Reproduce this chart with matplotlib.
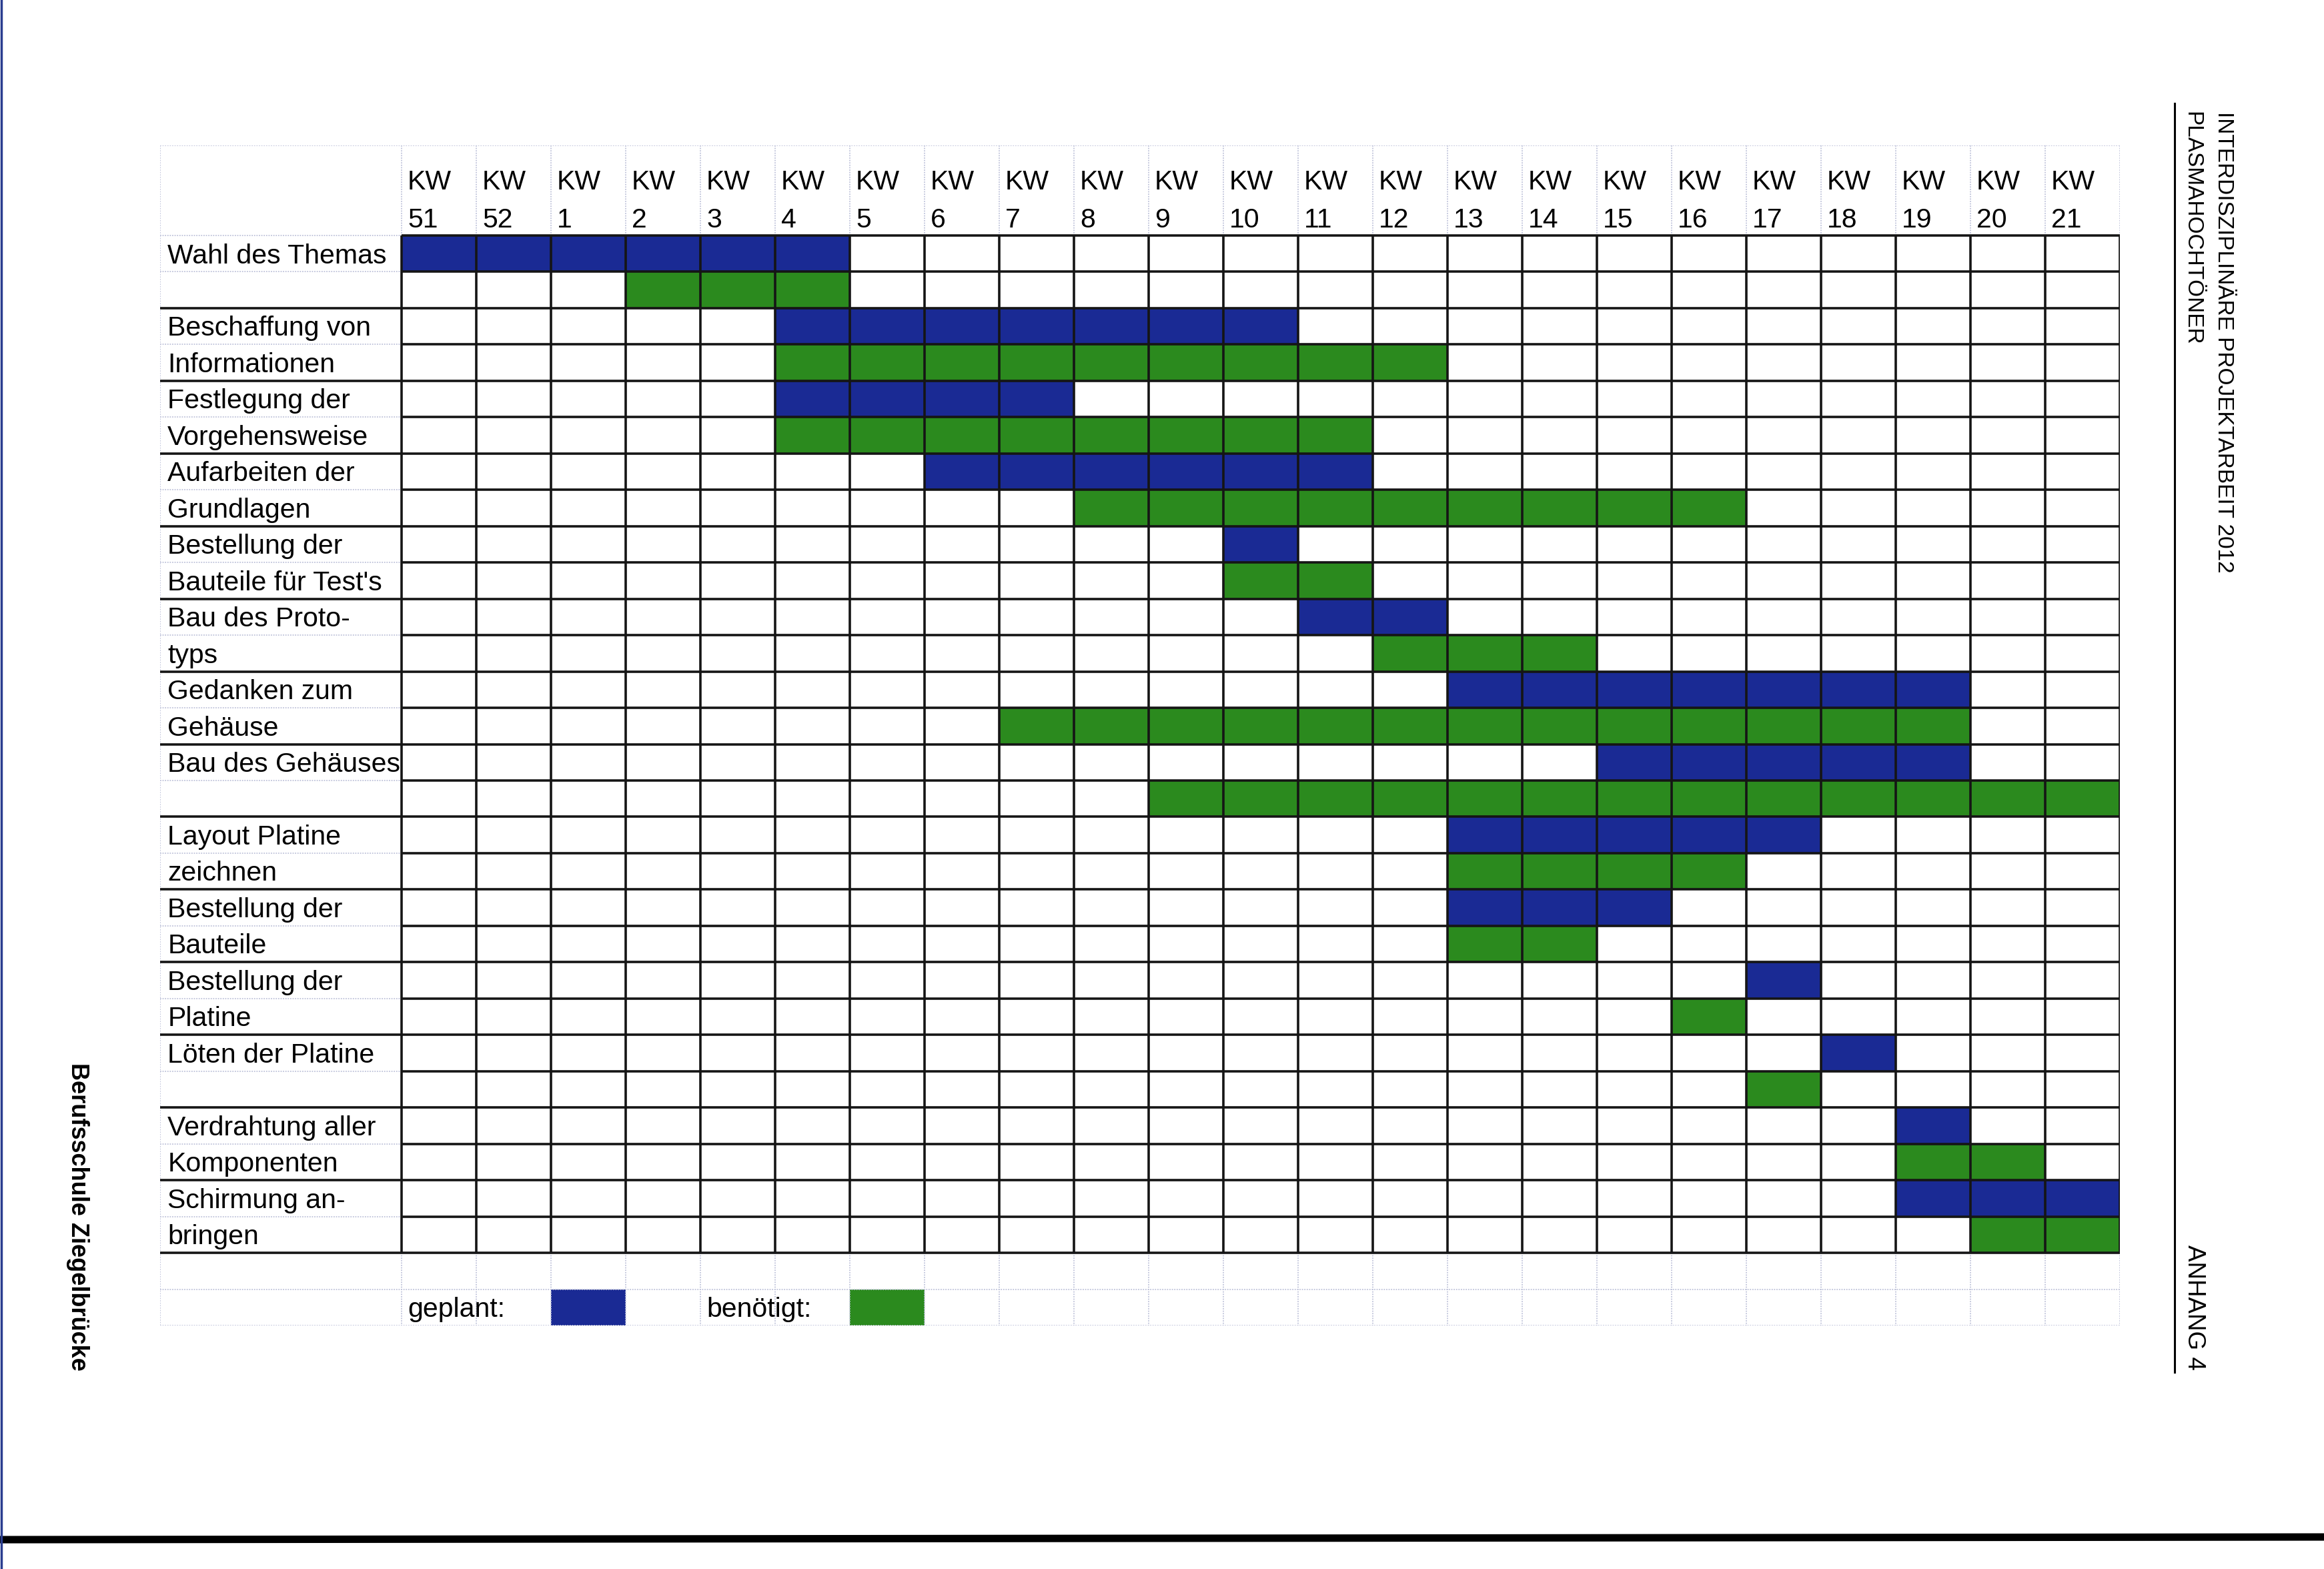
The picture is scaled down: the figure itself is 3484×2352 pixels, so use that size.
import matplotlib
matplotlib.use('Agg')
import matplotlib.pyplot as plt
from matplotlib.lines import Line2D
from matplotlib import font_manager

# ---------------- data ----------------
weeks = [51, 52] + list(range(1, 22))
week_labels = [str(w) for w in weeks]

labels_top = ["Wahl des Themas", "Beschaffung von", "Festlegung der", "Aufarbeiten der",
              "Bestellung der", "Bau des Proto-", "Gedanken zum", "Bau des Gehäuses",
              "Layout Platine", "Bestellung der", "Bestellung der", "Löten der Platine",
              "Verdrahtung aller", "Schirmung an-"]
labels_bottom = ["", "Informationen", "Vorgehensweise", "Grundlagen",
                 "Bauteile für Test's", "typs", "Gehäuse", "",
                 "zeichnen", "Bauteile", "Platine", "",
                 "Komponenten", "bringen"]

planned_from = [51, 4, 4, 6, 10, 11, 13, 15, 13, 13, 17, 18, 19, 19]
planned_to   = [4, 10, 7, 11, 10, 12, 19, 19, 17, 15, 17, 18, 19, 21]
needed_from  = [2, 4, 4, 8, 10, 12, 7, 9, 13, 13, 16, 17, 19, 20]
needed_to    = [4, 12, 11, 16, 11, 14, 19, 21, 16, 14, 16, 17, 20, 21]

legend_labels = ["geplant:", "benötigt:"]

# ---------------- style ----------------
BLUE = '#1a2a94'
GREEN = '#2b8a1e'
DARK = '#151515'
LIGHT = '#bfc3da'

W, H = 3484, 2352
fig = plt.figure(figsize=(W / 100, H / 100), dpi=100)
fig.patch.set_facecolor('white')

FONT = ['Liberation Sans', 'DejaVu Sans']
FS = 29.5
names = {f.name for f in font_manager.fontManager.ttflist}
if 'Liberation Sans Narrow' in names:
    HEADFONT = ['Liberation Sans Narrow', 'Liberation Sans']
    HEADSIZE = 28.5
else:
    HEADFONT = FONT
    HEADSIZE = 24

ncol = len(weeks)
ntask = len(labels_top)
nrows = 2 * ntask + 2
LABW = 362 / 112.0
HDR = 135 / 54.46
DY = 0.06  # small downward text offset

ax = fig.add_axes([240 / W, 1 - 1987 / H, 2938 / W, (1987 - 218) / H])
ax.set_xlim(-LABW, ncol)
ax.set_ylim(nrows, -HDR)
ax.axis('off')

col = {w: i for i, w in enumerate(weeks)}

# bars
for i in range(ntask):
    s, e = col[planned_from[i]], col[planned_to[i]]
    ax.barh(2 * i + 0.5, e - s + 1, left=s, height=1.0, color=BLUE, zorder=1)
    s, e = col[needed_from[i]], col[needed_to[i]]
    ax.barh(2 * i + 1.5, e - s + 1, left=s, height=1.0, color=GREEN, zorder=1)

# legend row
ax.barh(nrows - 0.5, 1, left=2, height=1.0, color=BLUE, zorder=1)
ax.barh(nrows - 0.5, 1, left=6, height=1.0, color=GREEN, zorder=1)
ax.text(0.08, nrows - 0.5 + DY, legend_labels[0], fontsize=FS, family=FONT, va='center', ha='left')
ax.text(4.08, nrows - 0.5 + DY, legend_labels[1], fontsize=FS, family=FONT, va='center', ha='left')

# light dotted grid (spreadsheet gridlines)
lkw = dict(color=LIGHT, lw=1.3, ls=(0, (1, 1)), zorder=2)
ax.hlines(-HDR, -LABW, ncol, **lkw)
ax.hlines(0, -LABW, 0, **lkw)
ax.vlines([-LABW] + list(range(0, ncol + 1)), -HDR, 0, **lkw)
ax.hlines(list(range(1, 2 * ntask, 2)), -LABW, 0, **lkw)
ax.vlines(-LABW, 0, nrows, **lkw)
ax.hlines([2 * ntask + 1, nrows], -LABW, ncol, **lkw)
ax.vlines(list(range(0, ncol + 1)), 2 * ntask, nrows, **lkw)

# dark cell borders
dkw = dict(color=DARK, lw=2.6, zorder=3)
ax.hlines(list(range(0, 2 * ntask + 1)), 0, ncol, **dkw)
ax.hlines(list(range(2, 2 * ntask + 1, 2)), -LABW, 0, **dkw)
ax.vlines(list(range(0, ncol + 1)), 0, 2 * ntask, **dkw)

# header texts
for i, lab in enumerate(week_labels):
    ax.text(i + 0.08, -1.52 + DY, "KW", fontsize=FS, family=FONT, va='center', ha='left')
    ax.text(i + 0.08, -0.48 + DY, lab, fontsize=FS, family=FONT, va='center', ha='left')

# task labels
for i in range(ntask):
    ax.text(-LABW + 0.1, 2 * i + 0.5 + DY, labels_top[i], fontsize=FS, family=FONT,
            va='center', ha='left')
    if labels_bottom[i]:
        ax.text(-LABW + 0.1, 2 * i + 1.5 + DY, labels_bottom[i], fontsize=FS, family=FONT,
                va='center', ha='left')

# page decorations
fig.text(3333 / W, 1 - 167 / H, "INTERDISZIPLINÄRE PROJEKTARBEIT 2012", rotation=-90,
         fontsize=HEADSIZE, family=HEADFONT, ha='center', va='top')
fig.text(3286 / W, 1 - 167 / H, "PLASMAHOCHTÖNER", rotation=-90,
         fontsize=HEADSIZE, family=HEADFONT, ha='center', va='top')
fig.text(3289 / W, 1 - 1866 / H, "ANHANG 4", rotation=-90,
         fontsize=26.5, family=FONT, ha='center', va='top')
fig.text(116 / W, 1 - 1824 / H, "Berufsschule Ziegelbrücke", rotation=-90,
         fontsize=26, family=FONT, fontweight='bold', ha='center', va='center')

fig.add_artist(Line2D([3260 / W, 3260 / W], [1 - 155 / H, 1 - 2057 / H],
                      transform=fig.transFigure, color='black', lw=2.2))
fig.add_artist(Line2D([0, 1], [1 - 2308 / H, 1 - 2304 / H],
                      transform=fig.transFigure, color='black', lw=8))
fig.add_artist(Line2D([1.5 / W, 1.5 / W], [0, 1],
                      transform=fig.transFigure, color='#2a3d8f', lw=2.5))

fig.savefig('out.png', dpi=100, facecolor='white')
